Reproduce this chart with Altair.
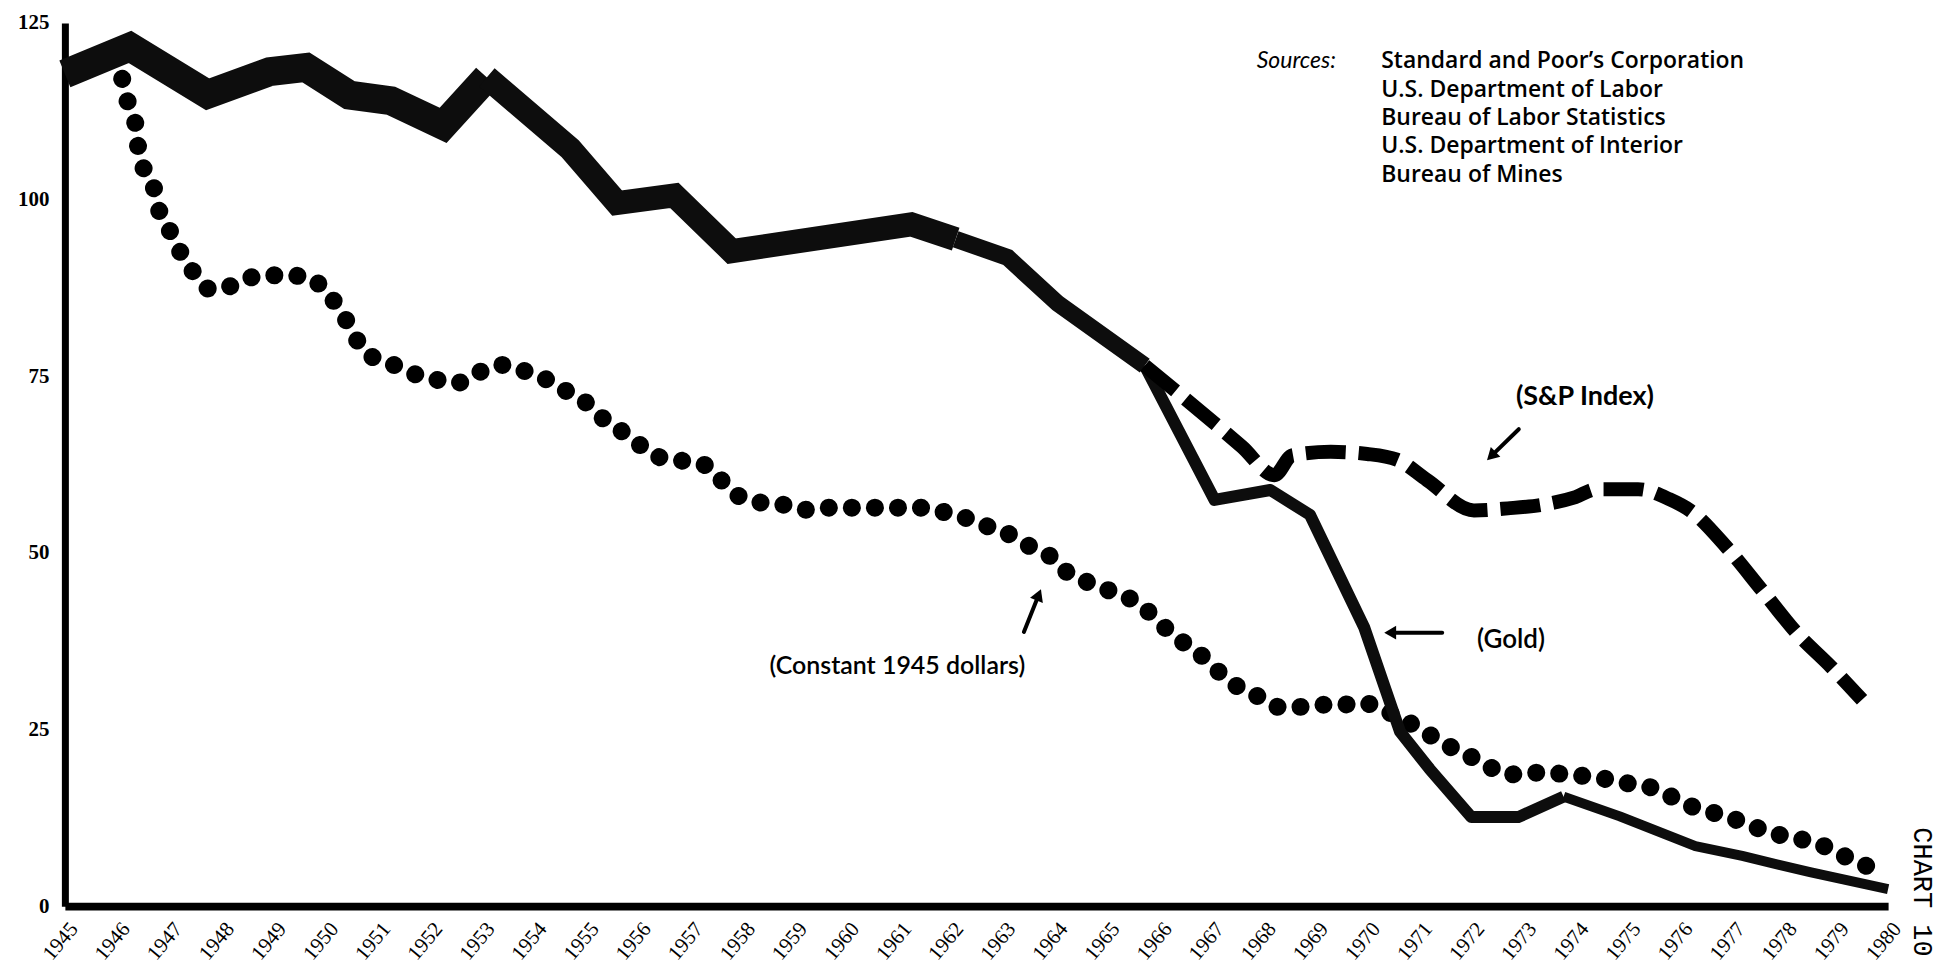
import altair as alt
import pandas as pd

# ---------------- data ----------------
year_ticks = list(range(1945, 1981))
y_ticks = [0, 25, 50, 75, 100, 125]

# Gold (thick line)
gold_year = [1945.0, 1946.25, 1947.74, 1948.93, 1949.63, 1950.46, 1951.26, 1952.26, 1953.1,
             1954.7, 1955.6, 1956.7, 1957.8, 1961.25, 1962.1, 1963.1, 1964.06, 1965.73,
             1967.07, 1968.14, 1968.9, 1969.94, 1970.63, 1971.2, 1972.0, 1972.9, 1973.77,
             1974.85, 1976.3, 1977.2, 1978.5, 1980.0]
gold_value = [117.8, 121.6, 114.9, 118.1, 118.7, 114.8, 114.0, 110.5, 117.3,
              107.2, 99.5, 100.6, 92.7, 96.5, 94.4, 91.8, 85.3, 76.5,
              57.5, 58.9, 55.4, 39.5, 24.7, 19.4, 12.6, 12.6, 15.5,
              12.7, 8.5, 7.1, 4.8, 2.4]

# S&P Index (dashed line)
sp_year = [1965.73, 1967.6, 1968.22, 1968.56, 1969.3, 1970.0, 1970.57, 1971.15, 1972.05,
           1972.7, 1973.35, 1974.0, 1974.4, 1975.2, 1975.8, 1976.2, 1976.9, 1977.57,
           1978.24, 1978.9, 1979.5]
sp_value = [76.5, 65.0, 61.0, 63.8, 64.3, 64.0, 63.2, 60.3, 56.0,
            56.3, 56.8, 57.9, 59.0, 59.0, 57.6, 56.0, 50.8, 44.8,
            38.7, 33.9, 29.2]

# Constant 1945 dollars (dotted line)
const_year = [1946.1, 1946.2, 1946.35, 1946.4, 1946.5, 1946.7, 1946.8, 1947.0, 1947.2,
              1947.45, 1947.8, 1948.25, 1948.7, 1949.25, 1949.75, 1950.0, 1950.3, 1950.5,
              1950.8, 1951.2, 1951.6, 1952.2, 1952.5, 1952.9, 1953.4, 1953.8, 1954.2,
              1954.6, 1955.0, 1955.3, 1955.6, 1956.0, 1956.3, 1956.8, 1957.3, 1957.6,
              1957.9, 1958.3, 1958.8, 1959.2, 1959.7, 1960.1, 1960.6, 1961.0, 1961.4,
              1961.8, 1962.2, 1962.6, 1963.0, 1963.45, 1963.9, 1964.25, 1964.65, 1965.0,
              1965.4, 1965.75, 1966.0, 1966.4, 1966.8, 1967.1, 1967.4, 1967.9, 1968.3,
              1968.7, 1969.1, 1969.5, 1969.9, 1970.3, 1970.7, 1971.1, 1971.5, 1971.9,
              1972.26, 1972.7, 1973.1, 1973.6, 1974.06, 1974.5, 1974.9, 1975.4, 1975.7,
              1976.0, 1976.4, 1976.9, 1977.4, 1977.8, 1978.15, 1978.6, 1979.1, 1979.5,
              1979.9]
const_value = [117.1, 114.0, 110.9, 107.8, 104.7, 101.9, 98.7, 95.8, 92.8,
               89.9, 87.3, 87.9, 89.2, 89.3, 88.8, 86.9, 84.3, 81.5,
               78.2, 77.0, 75.6, 74.4, 74.0, 75.4, 76.6, 75.8, 74.7,
               73.0, 71.3, 69.2, 67.7, 65.5, 63.8, 63.1, 62.4, 60.3,
               58.2, 57.2, 56.8, 56.1, 56.4, 56.4, 56.4, 56.4, 56.4,
               55.9, 55.2, 54.0, 53.1, 51.2, 49.6, 47.2, 45.8, 44.8,
               43.7, 42.0, 40.2, 37.7, 35.6, 33.5, 31.6, 29.7, 28.2,
               28.2, 28.5, 28.5, 28.8, 27.8, 26.4, 24.7, 22.9, 21.5,
               20.1, 18.6, 18.9, 18.8, 18.5, 18.1, 17.5, 16.9, 16.1,
               14.8, 13.7, 12.7, 11.3, 10.3, 9.7, 9.0, 7.3, 5.9,
               5.2]

# annotations
label_text = ["(S&P Index)", "(Gold)", "(Constant 1945 dollars)"]
label_year = [1974.18, 1972.76, 1960.98]
label_value = [72.0, 37.6, 34.0]
label_size = [27, 26, 25]

arrow_tail_year = [1972.91, 1971.44, 1963.41]
arrow_tail_value = [67.5, 38.7, 38.8]
arrow_head_year = [1972.41, 1970.48, 1963.68]
arrow_head_value = [63.9, 38.7, 43.8]
arrow_angle = [226, 270, 22]

source_lines = ["Standard and Poor\u2019s Corporation", "U.S. Department of Labor",
                "Bureau of Labor Statistics", "U.S. Department of Interior",
                "Bureau of Mines"]
source_first_value = 119.6     # first line (level of "Sources:")
source_year = 1970.27
sources_head_year = 1967.88

chart_tag = "CHART 10"
chart_tag_year = 1980.66
chart_tag_value = 2.0

# ---------------- tables ----------------
gold = pd.DataFrame({"year": gold_year, "value": gold_value})
sp = pd.DataFrame({"year": sp_year, "value": sp_value})
const = pd.DataFrame({"year": const_year, "value": const_value})
labels = pd.DataFrame({"year": label_year, "value": label_value, "text": label_text,
                       "size": label_size})
shafts = pd.DataFrame({"year": arrow_tail_year, "value": arrow_tail_value,
                       "year2": arrow_head_year, "value2": arrow_head_value})
heads = pd.DataFrame({"year": arrow_head_year, "value": arrow_head_value,
                      "angle": arrow_angle})
sources = pd.DataFrame({"year": [source_year], "value": [source_first_value],
                        "text": ["\n".join(source_lines)]})
sources_head = pd.DataFrame({"year": [sources_head_year], "value": [source_first_value],
                             "text": ["Sources:"]})
tag = pd.DataFrame({"year": [chart_tag_year], "value": [chart_tag_value], "text": [chart_tag]})

xscale = alt.Scale(domain=[1945, 1980], nice=False, zero=False)
yscale = alt.Scale(domain=[0, 125], nice=False, zero=False)

x_axis = alt.Axis(values=year_ticks, format="d", labelAngle=-50, labelAlign="right",
                  labelBaseline="middle", labelFont="Liberation Serif", labelFontSize=21,
                  labelColor="black", labelPadding=19, labelOffset=9, ticks=False,
                  grid=False, domainColor="black", domainWidth=8, title=None,
                  labelOverlap=False, labelBound=False, labelFlush=False)
y_axis = alt.Axis(values=y_ticks, labelFont="Liberation Serif", labelFontSize=21,
                  labelFontWeight="bold", labelColor="black", labelPadding=16,
                  ticks=False, grid=False, domainColor="black", domainWidth=7,
                  title=None, labelFlush=False)


def X():
    return alt.X("year:Q", scale=xscale, axis=x_axis)


def Y():
    return alt.Y("value:Q", scale=yscale, axis=y_axis)


def gold_seg(lo, hi, width, join):
    return alt.Chart(gold).transform_filter(
        f"datum.year >= {lo} && datum.year <= {hi}"
    ).mark_line(color="#0d0d0d", strokeWidth=width, strokeJoin=join, strokeCap="butt").encode(
        x=X(), y=Y())


gold_a = gold_seg(1945.0, 1953.1, 29, "miter")
gold_b = gold_seg(1953.1, 1962.1, 24, "miter")
gold_c = gold_seg(1962.1, 1965.73, 17, "miter")
gold_d = gold_seg(1965.73, 1973.77, 12, "round")
gold_e = gold_seg(1973.77, 1980.0, 10, "round")

sp_line = alt.Chart(sp).mark_line(color="black", strokeWidth=14, strokeDash=[40, 13],
                                  strokeCap="butt", interpolate="monotone").encode(x=X(), y=Y())

const_line = alt.Chart(const).mark_line(color="black", strokeWidth=18, strokeDash=[0.1, 23],
                                        strokeCap="round", interpolate="monotone").encode(x=X(), y=Y())

ann_bold = alt.Chart(labels).transform_filter("datum.text == '(S&P Index)'").mark_text(
    font="Lato", fontWeight="bold", color="black", align="center",
    baseline="middle").encode(x=X(), y=Y(), text="text:N", size=alt.Size("size:Q", scale=None))
ann_reg = alt.Chart(labels).transform_filter("datum.text != '(S&P Index)'").mark_text(
    font="Lato", fontWeight=600, color="black", align="center",
    baseline="middle").encode(x=X(), y=Y(), text="text:N", size=alt.Size("size:Q", scale=None))

arrow_shaft = alt.Chart(shafts).mark_rule(color="black", strokeWidth=4, strokeCap="round").encode(
    x=X(), y=Y(), x2="year2:Q", y2="value2:Q")
arrow_head = alt.Chart(heads).mark_point(shape="triangle", filled=True, color="black",
                                         size=190, opacity=1).encode(
    x=X(), y=Y(), angle=alt.Angle("angle:Q", scale=None))

src_text = alt.Chart(sources).mark_text(font="Open Sans", fontSize=23, fontWeight=600,
                                        color="black", align="left", baseline="middle",
                                        lineBreak="\n", lineHeight=28.5).encode(
    x=X(), y=Y(), text="text:N")
src_head = alt.Chart(sources_head).mark_text(font="Lato", fontSize=23, fontStyle="italic",
                                             color="black", align="left",
                                             baseline="middle").encode(
    x=X(), y=Y(), text="text:N")

tag_text = alt.Chart(tag).mark_text(font="Liberation Mono", fontSize=27, angle=90,
                                    color="black", align="center", baseline="middle").encode(
    x=X(), y=Y(), text="text:N")

chart = alt.layer(
    const_line, gold_a, gold_b, gold_c, gold_d, gold_e, sp_line,
    arrow_shaft, arrow_head, ann_bold, ann_reg, src_head, src_text, tag_text
).properties(
    width=1827, height=885,
    padding={"left": 57, "top": 14, "right": 48, "bottom": 62},
    autosize=alt.AutoSizeParams(type="none"),
    background="white",
).configure_view(stroke=None)

chart.save("out.html", embed_options={"renderer": "svg", "actions": False})
